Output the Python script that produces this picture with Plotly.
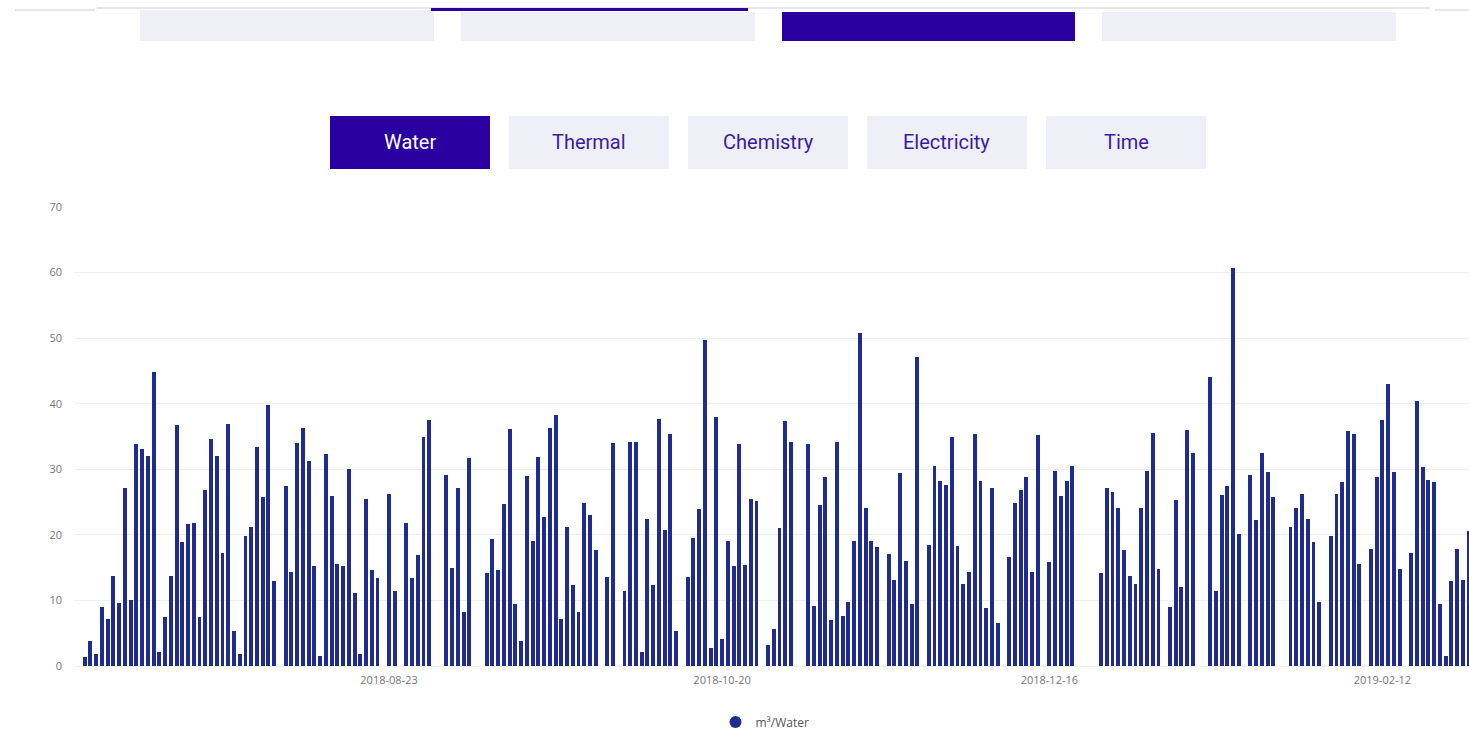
import pandas as pd
import plotly.graph_objects as go

# ---------------- data ----------------
start_date = "2018-07-01"
# daily water consumption (m³); None = no reading that day
water = [
    1.3, 3.8, 1.8, 9.0, 7.2, 13.8, 9.6, 27.2, 10.1, 33.8, 33.1, 32.1, 44.8, 2.2, 7.4, 13.8, 36.7,
    18.9, 21.6, 21.8, 7.4, 26.8, 34.6, 32.1, 17.3, 36.9, 5.3, 1.8, 19.9, 21.2, 33.4, 25.8, 39.8, 12.9,
    None, 27.4, 14.4, 34.0, 36.3, 31.3,
    15.2, 1.5, 32.4, 25.9, 15.6, 15.2, 30.1, 11.1, 1.9, 25.4, 14.7, 13.4,
    None, 26.3, 11.5,
    None, 21.8, 13.4, 16.9, 35.0, 37.5,
    None, None, 29.2, 15.0, 27.2, 8.2, 31.7,
    None, None, 14.2, 19.3, 14.6, 24.7, 36.2, 9.4, 3.8, 29.0, 19.1, 31.9,
    22.8, 36.3, 38.3, 7.2, 21.2, 12.3, 8.2, 24.9, 23.0, 17.7,
    None, 13.6, 34.0,
    None, 11.5, 34.2, 34.2, 2.2, 22.4, 12.3, 37.7, 20.8, 35.4, 5.3,
    None, 13.6, 19.5, 23.9, 49.7, 2.8, 37.9, 4.1, 19.1, 15.2, 33.8, 15.4, 25.4, 25.1,
    None, 3.2, 5.7, 21.0, 37.3, 34.2,
    None, None, 33.8, 9.2, 24.5, 28.8, 7.0, 34.2, 7.6, 9.8, 19.1, 50.8, 24.1, 19.1, 18.1,
    None, 17.1, 13.1, 29.4, 16.0, 9.4, 47.1,
    None, 18.5, 30.5, 28.2, 27.6, 35.0, 18.3, 12.5, 14.4, 35.4, 28.2, 8.8, 27.2, 6.5,
    None, 16.6, 24.9, 26.8, 28.8, 14.4, 35.2,
    None, 15.8, 29.8, 25.9, 28.2, 30.5,
    None, None, None, None, 14.2, 27.2, 26.5, 24.1, 17.7, 13.8, 12.5, 24.1, 29.8, 35.6, 14.8,
    None, 9.0, 25.3, 12.1, 36.0, 32.5,
    None, None, 44.1, 11.5, 26.1, 27.4, 60.7, 20.2,
    None, 29.2, 22.2, 32.5, 29.6, 25.7,
    None, None, 21.2, 24.1, 26.3, 22.4, 18.9, 9.8,
    None, 19.9, 26.3, 28.0, 35.8, 35.4, 15.6,
    None, 17.9, 28.8, 37.5, 43.0, 29.6, 14.8,
    None, 17.3, 40.4, 30.3, 28.4, 28.0, 9.4, 1.5, 12.9, 17.9, 13.1, 20.6,
]
dates = pd.date_range(start_date, periods=len(water), freq="D")

x_tick_labels = ["2018-08-23", "2018-10-20", "2018-12-16", "2019-02-12"]
y_ticks = [0, 10, 20, 30, 40, 50, 60, 70]
buttons = ["Water", "Thermal", "Chemistry", "Electricity", "Time"]
series_name = "m³/Water"

# ---------------- style ----------------
W, H = 1469, 731
PLOT_L, PLOT_T, PLOT_B = 75, 207, 666   # page pixels of the plot area
ML, MR, MT, MB = PLOT_L, 0, PLOT_T, H - PLOT_B
PW, PH = W - ML - MR, H - MT - MB
BAR = "#1f2b8e"
INDIGO = "#2a00a0"
LIGHT = "#efeff8"
BTN_TXT = "#3b1ca0"
TICK_COL = "#777777"

def px(x):
    return (x - PLOT_L) / PW

def py(y):
    return (PLOT_B - y) / PH

px_per_day = 5.742
first_bar_px = 84.7
x0 = pd.Timestamp(start_date) - pd.Timedelta(days=(first_bar_px - PLOT_L) / px_per_day)
x1 = x0 + pd.Timedelta(days=PW / px_per_day)

fig = go.Figure()
fig.add_trace(go.Bar(
    x=dates, y=water, name=series_name, showlegend=False,
    marker=dict(color=BAR, line=dict(width=0)),
    width=0.68 * 86400000,
))
fig.add_trace(go.Scatter(
    x=[None], y=[None], mode="markers", name=series_name,
    marker=dict(color=BAR, size=12, symbol="circle"),
))

shapes = []
annotations = []

# top tab strip
shapes.append(dict(type="line", xref="paper", yref="paper",
                   x0=px(97), x1=px(1430), y0=py(8), y1=py(8),
                   line=dict(color="#e6e6e6", width=2)))
shapes.append(dict(type="line", xref="paper", yref="paper",
                   x0=px(15), x1=px(95), y0=py(10), y1=py(10),
                   line=dict(color="#e6e6e6", width=2)))
shapes.append(dict(type="line", xref="paper", yref="paper",
                   x0=px(1435), x1=px(1469), y0=py(10), y1=py(10),
                   line=dict(color="#e6e6e6", width=2)))
tabs = [(140, 434, 10, LIGHT), (461, 755, 12, LIGHT), (782, 1075, 12, INDIGO), (1102, 1396, 12, LIGHT)]
for a, b, top, col in tabs:
    shapes.append(dict(type="rect", xref="paper", yref="paper",
                       x0=px(a), x1=px(b), y0=py(41), y1=py(top),
                       fillcolor=col, line=dict(width=0), layer="above"))
shapes.append(dict(type="rect", xref="paper", yref="paper",
                   x0=px(431), x1=px(748), y0=py(11), y1=py(8),
                   fillcolor=INDIGO, line=dict(width=0), layer="above"))

# metric buttons
bx = [330, 509, 688, 867, 1046]
for i, (lab, left) in enumerate(zip(buttons, bx)):
    active = i == 0
    shapes.append(dict(type="rect", xref="paper", yref="paper",
                       x0=px(left), x1=px(left + 160), y0=py(169), y1=py(116),
                       fillcolor=INDIGO if active else LIGHT, line=dict(width=0),
                       layer="above"))
    annotations.append(dict(xref="paper", yref="paper", x=px(left + 80), y=py(142),
                            text=lab, showarrow=False, xanchor="center", yanchor="middle",
                            font=dict(family="Roboto", size=20,
                                      color="#ffffff" if active else BTN_TXT)))

tickvals = [pd.Timestamp(t) for t in x_tick_labels]

fig.update_layout(
    width=W, height=H,
    margin=dict(l=ML, r=MR, t=MT, b=MB, autoexpand=False),
    paper_bgcolor="white", plot_bgcolor="white",
    shapes=shapes, annotations=annotations,
    bargap=0,
    showlegend=True,
    legend=dict(orientation="h", x=px(765), y=py(722), xanchor="center", yanchor="middle",
                font=dict(family="Open Sans", size=12, color="#555555"),
                itemsizing="trace"),
    xaxis=dict(type="date", range=[x0, x1], tickvals=tickvals, ticktext=x_tick_labels,
               showgrid=False, zeroline=False, showline=False, ticks="",
               ticklabelstandoff=6,
               tickfont=dict(family="Open Sans", size=11, color=TICK_COL)),
    yaxis=dict(range=[0, 70], tickvals=y_ticks, showgrid=True, gridcolor="#eeeeee",
               gridwidth=1, zeroline=True, zerolinecolor="#eeeeee", zerolinewidth=1,
               showline=False, ticks="", ticklabelstandoff=12,
               tickfont=dict(family="Open Sans", size=11, color=TICK_COL)),
)

fig.write_html(
    "out.html",
    config={"displayModeBar": False},
    post_script="document.body.style.margin='0';document.body.style.overflow='hidden';",
)
